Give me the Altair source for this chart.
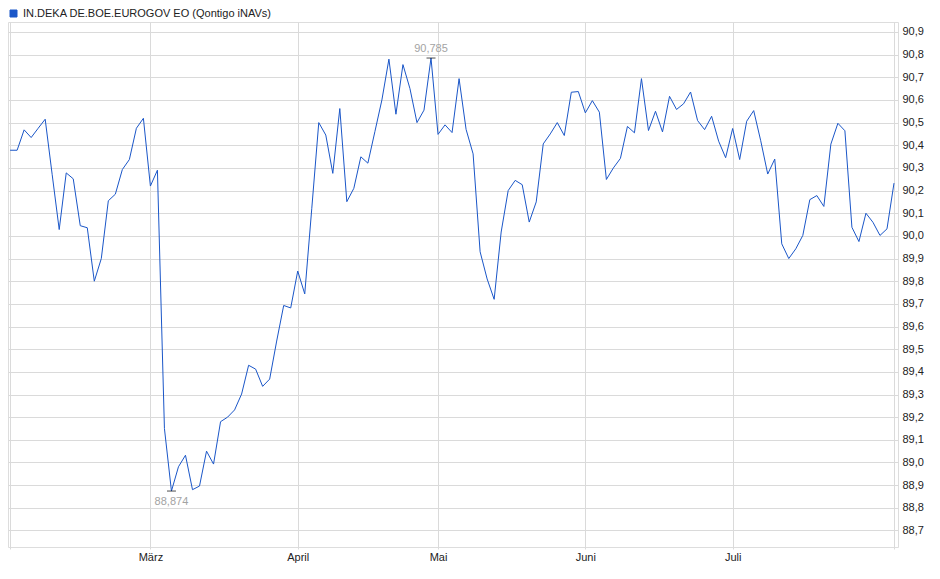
import altair as alt
import pandas as pd

SERIES = "IN.DEKA DE.BOE.EUROGOV EO (Qontigo iNAVs)"

# daily values (trading days, Feb 3 .. Aug 1)
VALUES = [
    90.378, 90.378, 90.468, 90.434, 90.475, 90.515, 90.270, 90.028, 90.278, 90.252,
    90.045, 90.036, 89.800, 89.900, 90.155, 90.184, 90.293, 90.337, 90.475, 90.519,
    90.220, 90.290, 89.150, 88.874, 88.981, 89.032, 88.880, 88.896, 89.050, 88.993,
    89.180, 89.200, 89.232, 89.302, 89.429, 89.412, 89.336, 89.368, 89.536, 89.693,
    89.682, 89.845, 89.744, 90.120, 90.500, 90.445, 90.276, 90.562, 90.151, 90.210,
    90.349, 90.321, 90.460, 90.600, 90.780, 90.537, 90.756, 90.650, 90.500, 90.555,
    90.785, 90.448, 90.490, 90.456, 90.694, 90.470, 90.362, 89.930, 89.810, 89.720,
    90.017, 90.200, 90.245, 90.226, 90.061, 90.150, 90.406, 90.450, 90.500, 90.443,
    90.634, 90.637, 90.543, 90.597, 90.546, 90.249, 90.300, 90.342, 90.483, 90.455,
    90.694, 90.465, 90.550, 90.459, 90.616, 90.558, 90.583, 90.635, 90.509, 90.469,
    90.528, 90.418, 90.345, 90.474, 90.337, 90.506, 90.553, 90.420, 90.273, 90.339,
    89.965, 89.900, 89.943, 90.002, 90.160, 90.178, 90.130, 90.405, 90.497, 90.464,
    90.038, 89.975, 90.100, 90.060, 90.002, 90.031, 90.233,
]

MONTH_POS = [20, 41, 61, 82, 103]
MONTH_LABELS = ["März", "April", "Mai", "Juni", "Juli"]
Y_TICKS = [88.7, 88.8, 88.9, 89.0, 89.1, 89.2, 89.3, 89.4, 89.5, 89.6, 89.7,
           89.8, 89.9, 90.0, 90.1, 90.2, 90.3, 90.4, 90.5, 90.6, 90.7, 90.8, 90.9]

LINE_COLOR = "#1a56c8"
GRID = "#dadada"
FONT = "Liberation Sans"

df = pd.DataFrame({"i": list(range(len(VALUES))), "v": VALUES, "series": SERIES})
last = len(VALUES) - 1

imin = df["v"].idxmin()
imax = df["v"].idxmax()
ext = df.loc[[imin, imax]].copy()
ext["label"] = ext["v"].map(lambda x: f"{x:.3f}".replace(".", ","))
min_df = ext.loc[[imin]]
max_df = ext.loc[[imax]]

label_expr = ""
for p, l in zip(MONTH_POS, MONTH_LABELS):
    label_expr += f"datum.value == {p} ? '{l}' : "
label_expr += "''"

x_enc = alt.X(
    "i:Q",
    scale=alt.Scale(domain=[-0.3, last + 0.57], nice=False, zero=False),
    axis=alt.Axis(
        values=[0] + MONTH_POS + [last],
        labelExpr=label_expr,
        grid=True, gridColor=GRID, gridWidth=1,
        domain=False, ticks=True, tickSize=2, tickColor=GRID,
        labelFont=FONT, labelFontSize=11, labelColor="#222222",
        labelPadding=2, labelFlush=False, labelOverlap=False, title=None,
    ),
)
y_enc = alt.Y(
    "v:Q",
    scale=alt.Scale(domain=[88.627, 90.944], nice=False, zero=False),
    axis=alt.Axis(
        orient="right", values=Y_TICKS,
        labelExpr="replace(format(datum.value, '.1f'), '.', ',')",
        grid=True, gridColor=GRID, gridWidth=1,
        domain=False, ticks=False, tickSize=0,
        labelFont=FONT, labelFontSize=11, labelColor="#222222",
        labelPadding=4, labelOverlap=False, labelFlush=False, title=None,
    ),
)

line = alt.Chart(df).mark_line(strokeWidth=1, clip=True).encode(
    x=x_enc,
    y=y_enc,
    color=alt.Color(
        "series:N",
        scale=alt.Scale(range=[LINE_COLOR]),
        legend=alt.Legend(
            orient="none", legendX=0, legendY=-14, title=None, padding=0,
            symbolType="square", symbolSize=49, symbolFillColor=LINE_COLOR,
            symbolStrokeColor="#0e3380", symbolStrokeWidth=1,
            labelFont=FONT, labelFontSize=11, labelColor="#222222", labelOffset=4,
            labelLimit=0,
        ),
    ),
)

marks = alt.Chart(ext).mark_tick(orient="horizontal", size=9, thickness=1, color="black").encode(
    x=x_enc, y=y_enc
)

min_txt = alt.Chart(min_df).mark_text(
    baseline="top", dy=5, font=FONT, fontSize=11, color="#a3a3a3"
).encode(x=x_enc, y=y_enc, text="label:N")

max_txt = alt.Chart(max_df).mark_text(
    baseline="bottom", dy=-4, font=FONT, fontSize=11, color="#a3a3a3"
).encode(x=x_enc, y=y_enc, text="label:N")

chart = (
    alt.layer(line, marks, min_txt, max_txt)
    .properties(width=890, height=525, padding={"left": 0, "top": 0, "right": 4, "bottom": 4},
                background="white")
    .configure_view(stroke="#d2d2d2", strokeWidth=1)
    .configure(font=FONT)
)

chart.save("out.html", embed_options={"renderer": "svg", "actions": False})
